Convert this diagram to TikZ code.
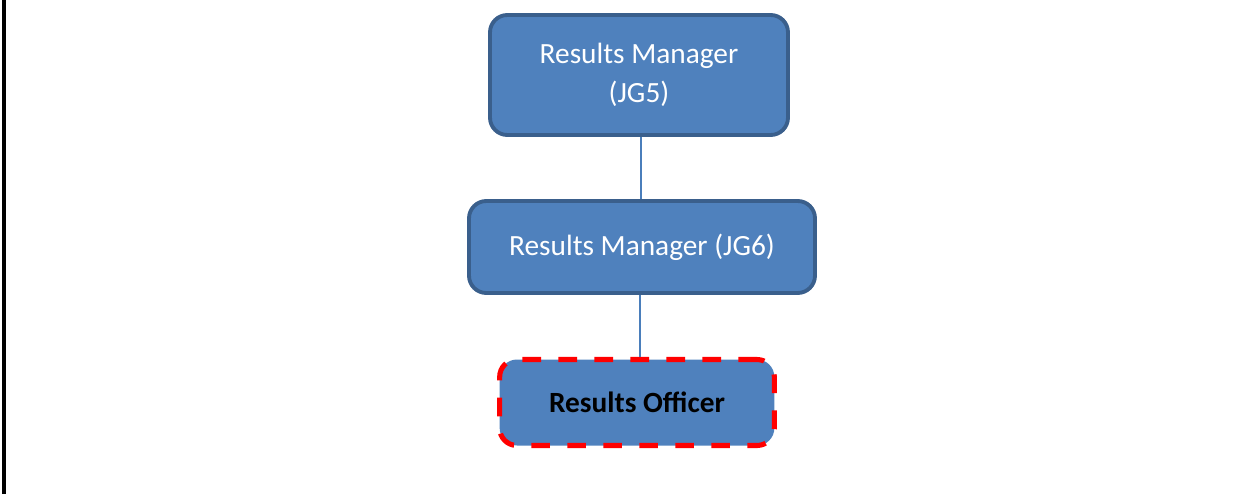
\documentclass[tikz,border=0pt]{standalone}
\usepackage{fontspec}
\setmainfont{Carlito}
\definecolor{boxfill}{HTML}{4F81BD}
\definecolor{boxline}{HTML}{3A5F8C}
\definecolor{linkline}{HTML}{4A7EBB}
\tikzset{
  post/.style={draw=boxline, fill=boxfill, line width=2.9pt, rounded corners=13pt,
    text=white, align=center, font=\fontsize{22}{29}\selectfont},
  ownpost/.style={post, draw=red, line width=3.8pt, dash pattern=on 14pt off 13pt,
    text=black, font=\fontsize{22}{29}\selectfont\bfseries},
  link/.style={draw=linkline, line width=1.1pt}
}
\begin{document}
\begin{tikzpicture}[x=0.75pt,y=0.75pt]
  \useasboundingbox (0,0) rectangle (1246,494);
  \draw[line width=2.3pt] (4,0) -- (4,494);
  \node[post, minimum width=223.5pt, minimum height=90pt] (jg5) at (639,419)
    {Results Manager\\(JG5)};
  \node[post, minimum width=259.5pt, minimum height=69pt] (jg6) at (642,247)
    {Results Manager (JG6)};
  \node[ownpost, minimum width=206pt, minimum height=64.5pt] (officer) at (637,91.5)
    {Results Officer};
  \begin{scope}[link]
    \draw (jg5.south -| 641,0) -- (jg6.north -| 641,0);
    \draw (jg6.south -| 640,0) -- (officer.north -| 640,0);
  \end{scope}
\end{tikzpicture}
\end{document}
